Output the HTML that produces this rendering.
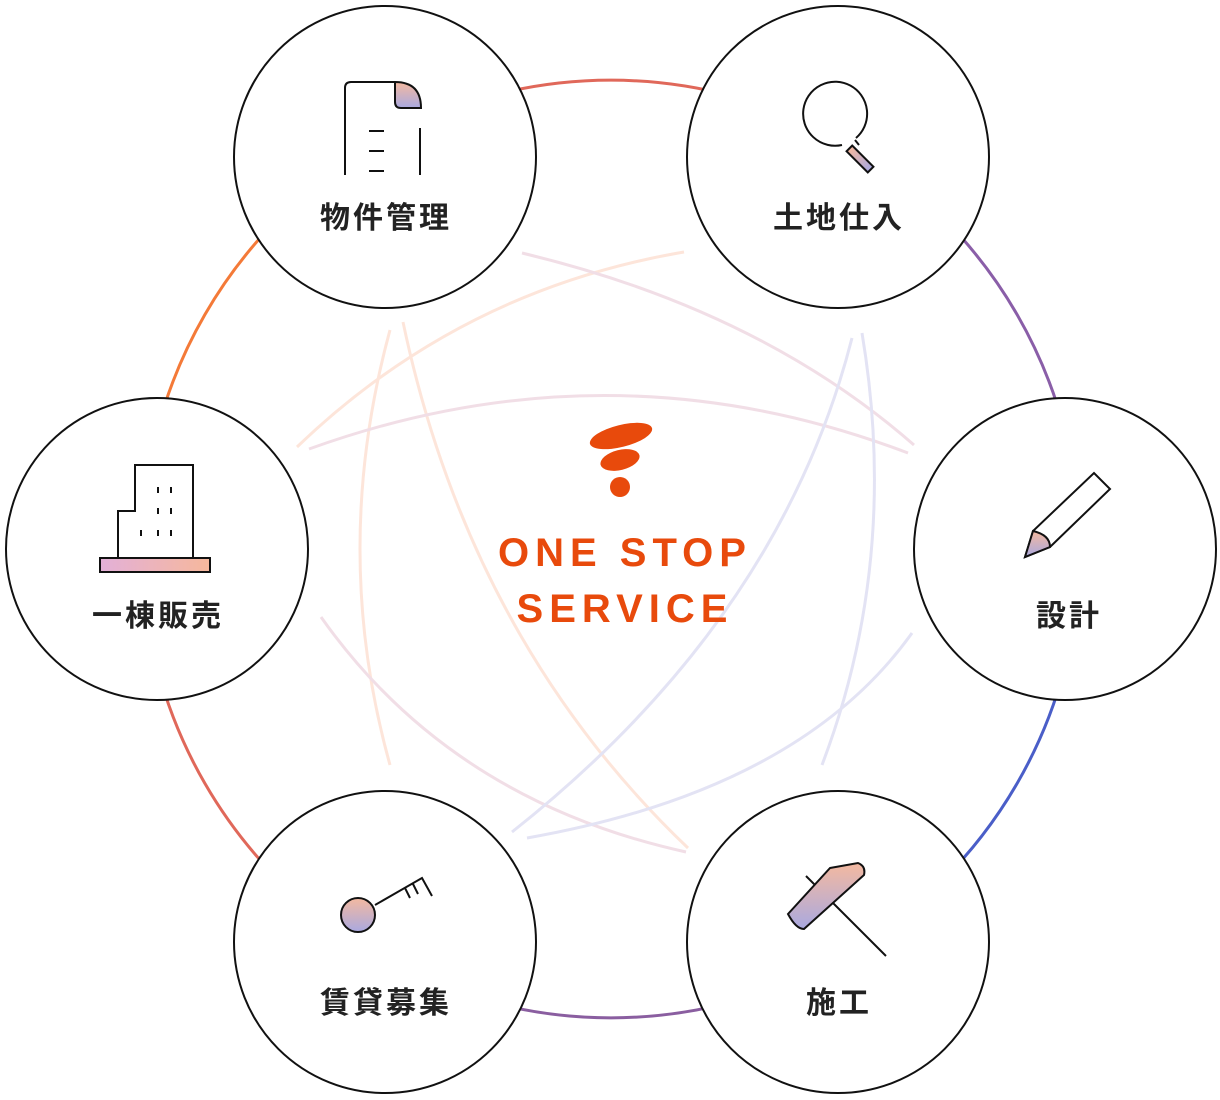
<!DOCTYPE html>
<html><head><meta charset="utf-8"><style>
body{margin:0;background:#fff;width:1220px;height:1100px;overflow:hidden}
svg{display:block}
text{font-family:"Liberation Sans","Noto Sans CJK JP",sans-serif}
</style></head><body>
<svg width="1220" height="1100" viewBox="0 0 1220 1100">
<defs>
<linearGradient id="g" x1="0" y1="0" x2="0" y2="1"><stop offset="0" stop-color="#f4b9a0"/><stop offset="1" stop-color="#a9a9e0"/></linearGradient>
<linearGradient id="gh" x1="0" y1="0" x2="1" y2="0"><stop offset="0" stop-color="#e3b0d8"/><stop offset="1" stop-color="#f6b89c"/></linearGradient>
</defs>
<g fill="none" stroke-width="3">
<path d="M376.5 143 A469 469 0 0 1 845.5 143" stroke="#e0685a"/>
<path d="M845.5 143 A469 469 0 0 1 1080 549" stroke="#8a5ea8"/>
<path d="M1080 549 A469 469 0 0 1 845.5 955" stroke="#4a5ec8"/>
<path d="M845.5 955 A469 469 0 0 1 376.5 955" stroke="#8a5ea0"/>
<path d="M376.5 955 A469 469 0 0 1 142 549" stroke="#e0685a"/>
<path d="M142 549 A469 469 0 0 1 376.5 143" stroke="#f47a38"/>
</g>
<g fill="none" stroke-width="3" opacity="0.9">
<path d="M297 447 Q460 290 684 252" stroke="#fde3d6"/>
<path d="M390 765 Q330 550 390 330" stroke="#fde3d6"/>
<path d="M403 322 Q470 640 688 848" stroke="#fde3d6"/>
<path d="M309 449 Q611 340 908 453" stroke="#f0dbe4"/>
<path d="M522 253 Q760 310 914 445" stroke="#f0dbe4"/>
<path d="M321 617 Q450 800 686 852" stroke="#f0dbe4"/>
<path d="M512 832 Q780 620 852 338" stroke="#e0e0f3"/>
<path d="M862 333 Q900 560 822 765" stroke="#e0e0f3"/>
<path d="M527 838 Q800 790 912 633" stroke="#e0e0f3"/>
</g>
<g fill="#fff" stroke="#111" stroke-width="2">
<circle cx="385" cy="157" r="151"/>
<circle cx="838" cy="157" r="151"/>
<circle cx="1065" cy="549" r="151"/>
<circle cx="838" cy="942" r="151"/>
<circle cx="385" cy="942" r="151"/>
<circle cx="157" cy="549" r="151"/>
</g>
<g font-size="30" font-weight="bold" fill="#222" text-anchor="middle" letter-spacing="3">
<text x="386" y="228">物件管理</text>
<text x="839" y="228">土地仕入</text>
<text x="1069" y="626">設計</text>
<text x="839" y="1013">施工</text>
<text x="386" y="1013">賃貸募集</text>
<text x="158" y="626">一棟販売</text>
</g>
<g fill="none" stroke="#111" stroke-width="2">
<path d="M345 175 V88 Q345 82 351 82 H395"/>
<path d="M395 82 V102 Q395 108 401 108 H421 Q421 82 395 82Z" fill="url(#g)"/>
<path d="M420 128 V175 M369 131 H384 M369 151 H384 M369 171 H384"/>
</g>
<g stroke="#111" stroke-width="2" fill="none">
<path d="M842 145 A32 32 0 1 1 856 138"/>
<path d="M855 140 L859 145"/>
<rect x="856" y="144" width="8" height="30" transform="rotate(-45 860 159)" fill="url(#g)"/>
</g>
<g stroke="#111" stroke-width="2" fill="#fff">
<path d="M1025 557 L1033 531 L1094 473 L1110 489 L1050 547Z" fill="#fff"/>
<path d="M1025 557 L1033 531 Q1050 535 1050 547Z" fill="url(#g)"/>
</g>
<g stroke="#111" stroke-width="2">
<path d="M806 876 L886 956" fill="none"/>
<path d="M830 868 L858 863 Q866 866 864 875 L804 929 Q796 929 788 914Z" fill="url(#g)"/>
</g>
<g stroke="#111" stroke-width="2" fill="none">
<path d="M375 905 L422 878 L432 896 M405 888 L410 898 M413 884 L418 894"/>
<circle cx="358" cy="915" r="17" fill="url(#g)"/>
</g>
<g stroke="#111" stroke-width="2" fill="#fff">
<path d="M118 558 V511 H135 V465 H193 V558"/>
<rect x="100" y="558" width="110" height="14" fill="url(#gh)"/>
</g>
<g fill="#111">
<rect x="157" y="487" width="2" height="6"/><rect x="170" y="487" width="2" height="6"/>
<rect x="157" y="508" width="2" height="6"/><rect x="170" y="508" width="2" height="6"/>
<rect x="140" y="530" width="2" height="6"/><rect x="157" y="530" width="2" height="6"/><rect x="170" y="530" width="2" height="6"/>
</g>
<g fill="#e84a0c">
<ellipse cx="621" cy="436" rx="32" ry="11" transform="rotate(-14 621 436)"/>
<ellipse cx="620" cy="460" rx="20" ry="10" transform="rotate(-14 620 460)"/>
<circle cx="620" cy="487" r="10"/>
</g>
<g fill="#e84a0c" font-size="40" font-weight="bold" text-anchor="middle" letter-spacing="6">
<text x="625" y="566">ONE STOP</text>
<text x="625" y="622">SERVICE</text>
</g>
</svg>
</body></html>
